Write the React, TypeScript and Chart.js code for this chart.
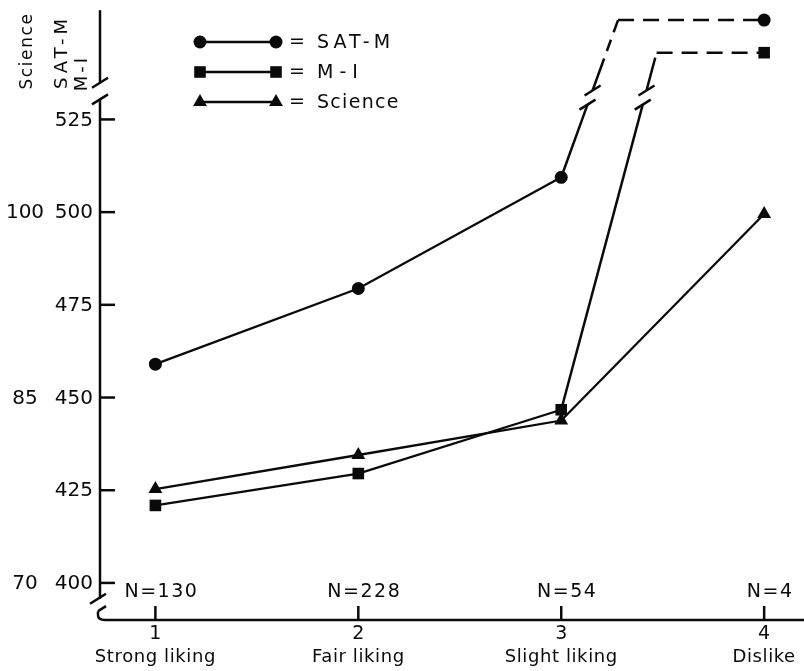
import React, { useEffect, useRef } from "react";
import { Chart, registerables } from "chart.js";

Chart.register(...registerables);

// ---- data ----
const ratings = [1, 2, 3, 4];
const ratingNames = ["Strong liking", "Fair liking", "Slight liking", "Dislike"];
const groupSizes = ["N=130", "N=228", "N=54", "N=4"];
const seriesNames = ["SAT-M", "M-I", "Science"];
const satM = [459, 479.4, 509.4, 551.8];
const mI = [420.9, 429.5, 446.7, 543];
const science = [425.3, 434.5, 443.8, 499.5];
const yTicks = [400, 425, 450, 475, 500, 525];
const scienceTickValues = [400, 450, 500];
const scienceTickLabels = ["70", "85", "100"];

const Y_MIN = 390;
const Y_MAX = 555;
const X_MIN = 0.727;
const X_MAX = 4.156;
const AXIS_BREAK = [530.4, 534.9];
const LINE_BREAK = [529, 532.8];
const BOTTOM_BREAK = [396.7, 397.9];
const KNEE = [0.28, 0.47];

const FONT = '"DejaVu Sans", sans-serif';
const INK = "#0a0a0a";

function marker(ctx: CanvasRenderingContext2D, style: string, x: number, y: number) {
  ctx.beginPath();
  if (style === "circle") {
    ctx.arc(x, y, 6.5, 0, Math.PI * 2);
  } else if (style === "rect") {
    ctx.rect(x - 5.8, y - 5.8, 11.6, 11.6);
  } else {
    const r = 8;
    ctx.moveTo(x, y - r);
    ctx.lineTo(x + r * 0.866, y + r * 0.5);
    ctx.lineTo(x - r * 0.866, y + r * 0.5);
    ctx.closePath();
  }
  ctx.fill();
}

const drawPlugin = {
  id: "paperDraw",
  afterDatasetsDraw(chart: any) {
    const ctx: CanvasRenderingContext2D = chart.ctx;
    const xs = chart.scales.x;
    const ys = chart.scales.y;
    const X = (v: number) => xs.getPixelForValue(v);
    const Y = (v: number) => ys.getPixelForValue(v);
    const ca = chart.chartArea;
    const W = chart.width;
    const ax = ca.left;

    const line = (x1: number, y1: number, x2: number, y2: number) => {
      ctx.beginPath();
      ctx.moveTo(x1, y1);
      ctx.lineTo(x2, y2);
      ctx.stroke();
    };
    const slash = (x: number, y: number) => line(x - 8, y + 5, x + 8, y - 5);

    ctx.save();
    ctx.strokeStyle = INK;
    ctx.fillStyle = INK;
    ctx.lineWidth = 2.5;
    ctx.lineCap = "butt";

    // y axis, upper piece
    line(ax, Y(Y_MAX) + 2, ax, Y(AXIS_BREAK[1]));
    slash(ax, Y(AXIS_BREAK[1]));
    // y axis, main piece
    line(ax, Y(AXIS_BREAK[0]), ax, Y(BOTTOM_BREAK[1]) + 8);
    slash(ax, Y(AXIS_BREAK[0]));
    slash(ax - 2, Y(BOTTOM_BREAK[1]) + 8);
    // bottom piece curving into x axis
    const yb = Y(Y_MIN);
    const bTop = Y(BOTTOM_BREAK[0]) + 16;
    ctx.beginPath();
    ctx.moveTo(ax - 2, bTop);
    ctx.lineTo(ax - 2, yb - 5);
    ctx.quadraticCurveTo(ax - 2, yb, ax + 5, yb);
    ctx.lineTo(W, yb);
    ctx.stroke();
    line(ax - 2, bTop, ax + 6, bTop - 5);

    // y ticks (inside)
    yTicks.forEach((t) => line(ax, Y(t), ax + 15, Y(t)));
    // x ticks (above axis)
    ratings.forEach((r) => line(X(r), yb, X(r), yb - 14));

    // y tick labels
    ctx.font = `20px ${FONT}`;
    ctx.textBaseline = "middle";
    ctx.textAlign = "right";
    yTicks.forEach((t) => ctx.fillText(String(t), ax - 7, Y(t) + 1));
    ctx.textAlign = "center";
    scienceTickValues.forEach((t, i) => ctx.fillText(scienceTickLabels[i], 25, Y(t) + 1));

    // x labels
    const centered = (txt: string, x: number, y: number) => {
      const w = ctx.measureText(txt).width;
      let cx = x;
      if (cx + w / 2 > W - 1) cx = W - 1 - w / 2;
      ctx.textAlign = "center";
      ctx.fillText(txt, cx, y);
    };
    ratings.forEach((r, i) => {
      ctx.font = `19px ${FONT}`;
      (ctx as any).letterSpacing = "1.5px";
      centered(groupSizes[i], X(r) + 6, yb - 28);
      (ctx as any).letterSpacing = "0px";
      centered(String(r), X(r), yb + 14);
      ctx.font = `18px ${FONT}`;
      (ctx as any).letterSpacing = "0.6px";
      centered(ratingNames[i], X(r), yb + 37);
      (ctx as any).letterSpacing = "0px";
    });

    // rotated axis titles above break
    const vtext = (txt: string, x: number, y: number, size: number, sp: number) => {
      ctx.save();
      ctx.translate(x, y);
      ctx.rotate(-Math.PI / 2);
      ctx.font = `${size}px ${FONT}`;
      (ctx as any).letterSpacing = `${sp}px`;
      ctx.textAlign = "center";
      ctx.textBaseline = "middle";
      ctx.fillText(txt, 0, 0);
      ctx.restore();
    };
    vtext("Science", 28, 51, 17, 1.6);
    vtext("SAT-M", 62, 52, 18, 4);
    vtext("M-I", 82, 73, 18, 3);

    // broken last segments
    const series = [satM, mI];
    series.forEach((vals, si) => {
      const x3 = X(3), y3 = Y(vals[2]);
      const kx = X(3 + KNEE[si]), ky = Y(vals[3]);
      const ex = X(4);
      const at = (yy: number) => x3 + ((yy - y3) / (ky - y3)) * (kx - x3);
      const yLo = Y(LINE_BREAK[0]);
      const yHi = Y(LINE_BREAK[1]);
      ctx.setLineDash([]);
      line(x3, y3, at(yLo), yLo);
      slash(at(yLo), yLo);
      slash(at(yHi), yHi);
      ctx.setLineDash([34, 8, 12, 8]);
      ctx.beginPath();
      ctx.moveTo(at(yHi), yHi);
      ctx.lineTo(kx, ky);
      ctx.stroke();
      ctx.setLineDash([16, 9]);
      line(kx, ky, ex - 4, ky);
      ctx.setLineDash([]);
    });

    // legend
    const styles = ["circle", "rect", "triangle"];
    const rowY = [42, 72, 102];
    const spacing = [4, 6, 1.3];
    ctx.font = `19px ${FONT}`;
    ctx.textAlign = "left";
    ctx.textBaseline = "middle";
    styles.forEach((st, i) => {
      const y = rowY[i];
      line(200, y, 276, y);
      marker(ctx, st, 200, y);
      marker(ctx, st, 276, y);
      (ctx as any).letterSpacing = "0px";
      ctx.fillText("=", 289, y);
      (ctx as any).letterSpacing = `${spacing[i]}px`;
      ctx.fillText(seriesNames[i], 317, y + 1);
      (ctx as any).letterSpacing = "0px";
    });

    ctx.restore();
  },
};

export default function App() {
  const ref = useRef<HTMLCanvasElement>(null);
  useEffect(() => {
    if (!ref.current) return;
    const hideLast = (c: any) => (c.p1DataIndex === 3 ? "rgba(0,0,0,0)" : INK);
    const mk = (label: string, vals: number[], style: string, radius: number, broken: boolean) => ({
      label,
      data: ratings.map((r, i) => ({ x: r, y: vals[i] })),
      borderColor: INK,
      backgroundColor: INK,
      borderWidth: 2.3,
      pointStyle: style,
      pointRadius: radius,
      pointBorderWidth: 0,
      pointBackgroundColor: INK,
      pointBorderColor: INK,
      clip: false,
      segment: broken ? { borderColor: hideLast } : undefined,
    });
    const chart = new Chart(ref.current, {
      type: "line",
      data: {
        datasets: [
          mk(seriesNames[0], satM, "circle", 6.5, true),
          mk(seriesNames[1], mI, "rect", 8.2, true),
          mk(seriesNames[2], science, "triangle", 8, false),
        ],
      } as any,
      options: {
        animation: false,
        responsive: false,
        layout: { padding: { left: 100, right: 0, top: 5, bottom: 51 } },
        plugins: { legend: { display: false }, tooltip: { enabled: false } },
        scales: {
          x: { type: "linear", min: X_MIN, max: X_MAX, display: false },
          y: { type: "linear", min: Y_MIN, max: Y_MAX, display: false },
        },
      },
      plugins: [drawPlugin],
    });
    return () => chart.destroy();
  }, []);
  return (
    <div style={{ position: "absolute", left: 0, top: 0, width: 804, height: 671, background: "#fff" }}>
      <canvas ref={ref} width={804} height={671} style={{ width: 804, height: 671 }} />
    </div>
  );
}
